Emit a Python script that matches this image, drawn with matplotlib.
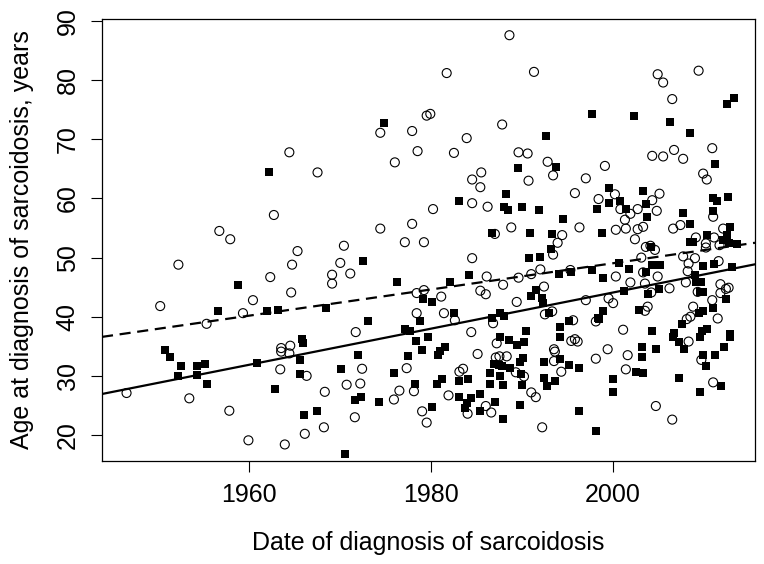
import numpy as np
import matplotlib
matplotlib.use('Agg')
import matplotlib.pyplot as plt

plt.rcParams['font.family'] = ['Liberation Sans', 'DejaVu Sans']

# open circles (dashed fit)
circle_year = [
    1964.4, 1967.5, 1988.6, 1981.7, 1991.3, 1974.4, 1979.5, 1979.9, 1977.9, 1987.8,
    1983.9, 1978.5, 1982.5, 1989.6, 1990.6, 1976.0, 1985.5,
    2009.4, 2004.9, 2005.5, 2006.5, 2004.3, 2005.5, 2006.7, 2007.7, 2010.9,
    1992.8, 1993.4, 1999.1, 2009.9, 2010.3, 1997.0,
    1962.7, 1956.7, 1957.9, 1965.3, 1964.7, 1952.2, 1962.3, 1964.6, 1960.4, 1950.2,
    1959.3, 1955.3,
    1984.5, 1985.4, 1990.7, 1984.5, 1986.2, 1980.2, 1977.9, 1974.4, 1988.8, 1987.0,
    1977.1, 1979.2, 1970.4, 1970.0, 1971.1, 1969.1, 1969.1, 1984.5, 1986.1, 1987.9,
    1989.6, 1991.0, 1992.0, 1985.4, 1986.0, 1978.4, 1979.2, 1981.1, 1989.4, 1978.4,
    1981.4, 1982.6, 1986.8, 1971.7, 1984.4,
    2000.2, 1995.8, 2005.1, 2004.3, 2004.8, 1998.4, 2000.8, 2002.7, 2001.9, 2001.3,
    2001.4, 2000.3, 2002.7, 2003.3, 2002.4, 1996.3, 1994.4, 1993.9, 1993.4, 2011.0,
    2007.4, 2006.6, 2009.1, 2012.1, 2011.1, 2011.7, 2010.2, 2010.2, 2004.1, 2003.6,
    2004.6, 2003.1, 2003.3, 2004.9, 2007.7, 2008.3, 2009.0, 2008.2, 2011.6, 2008.0,
    2011.8, 2012.7, 2012.4, 2009.3, 2011.8, 2010.9, 2008.8, 2011.5, 2008.5, 2008.1,
    2001.1, 2006.2, 2004.2, 2003.5, 2001.9, 2000.3, 1995.3, 1992.4, 1997.0, 1999.5,
    2000.0, 2003.8, 2003.5, 1998.1, 1995.6, 1992.5, 1993.3,
    1964.5, 1963.5, 1963.5, 1964.4, 1963.4, 1966.3, 1946.5, 1953.4, 1957.8, 1966.1,
    1959.9, 1963.9,
    1987.2, 1985.1, 1972.4, 1977.3, 1987.1, 1987.5, 1988.3, 1989.3, 1983.1, 1983.5,
    1990.2, 1978.1, 1976.5, 1975.9, 1970.7, 1972.2, 1968.3, 1981.9, 1984.0, 1986.0,
    1986.6, 1991.0, 1991.5, 1979.0, 1979.5, 1971.6, 1968.2,
    1995.4, 1995.8, 1996.1, 1993.5, 1993.6, 1993.5, 1994.3, 1998.1, 1999.4, 2001.6,
    2001.4, 2008.3, 2009.7, 2011.0, 2004.7, 2006.5, 1992.2,
]
circle_age = [
    67.8, 64.4, 87.6, 81.2, 81.4, 71.1, 74.0, 74.3, 71.4, 72.5,
    70.2, 68.0, 67.7, 67.8, 67.6, 66.1, 64.4,
    81.6, 81.0, 79.6, 76.8, 67.2, 67.1, 68.2, 66.7, 68.5,
    66.2, 63.9, 65.5, 64.2, 63.2, 63.4,
    57.2, 54.5, 53.1, 51.1, 48.8, 48.8, 46.7, 44.1, 42.8, 41.8,
    40.6, 38.8,
    63.2, 61.9, 63.0, 59.2, 58.6, 58.2, 55.7, 54.9, 55.1, 54.0,
    52.6, 52.6, 52.0, 49.1, 47.3, 47.1, 45.6, 49.9, 46.8, 45.4,
    46.6, 47.2, 48.0, 44.4, 43.8, 44.0, 44.5, 43.4, 42.5, 40.6,
    40.6, 39.4, 38.9, 37.4, 37.4,
    60.7, 60.9, 60.8, 59.7, 57.9, 59.9, 58.2, 58.2, 57.4, 56.4,
    54.9, 54.7, 54.8, 55.2, 53.1, 55.1, 53.8, 52.5, 50.5, 56.9,
    55.5, 54.9, 53.4, 54.9, 53.4, 52.1, 52.4, 51.7, 52.0, 51.8,
    51.3, 50.0, 47.5, 46.8, 50.2, 49.0, 49.9, 47.7, 49.4, 45.8,
    45.5, 44.9, 44.7, 44.2, 44.0, 42.8, 41.7, 39.7, 40.0, 39.6,
    37.8, 44.8, 44.1, 45.6, 45.8, 46.8, 47.9, 45.1, 42.8, 43.1,
    42.3, 41.7, 41.0, 39.2, 39.4, 40.4, 40.9,
    35.1, 34.7, 34.1, 33.8, 31.1, 30.0, 27.1, 26.2, 24.1, 20.2,
    19.1, 18.4,
    35.5, 33.7, 31.2, 31.3, 33.1, 33.3, 33.3, 30.6, 30.7, 31.2,
    29.9, 27.4, 27.5, 26.0, 28.5, 28.7, 27.3, 26.7, 23.6, 24.9,
    23.8, 27.2, 26.4, 24.0, 22.1, 23.0, 21.3,
    35.9, 36.2, 35.8, 34.5, 34.1, 32.5, 30.7, 32.9, 34.5, 33.5,
    31.1, 35.8, 32.7, 28.9, 24.9, 22.6, 21.3,
]

# filled squares (solid fit)
square_year = [
    1962.2, 1974.8, 1989.5, 2013.3, 2012.5, 1997.7, 2002.3, 2006.3, 2008.5, 1992.6,
    2011.2, 1993.7,
    1958.7, 1956.6, 1961.9, 1963.1,
    1988.2, 1983.0, 1988.0, 1988.4, 1990.0, 1991.8, 1986.7, 1990.9, 1972.5, 1976.2,
    1990.8, 1992.0, 1984.2, 1982.1, 1979.1, 1980.1, 1991.0, 1991.5, 1968.4, 1978.8,
    1982.5, 1973.1, 1986.7, 1987.6, 1988.0, 1977.1, 1977.7, 1990.4,
    1999.6, 2003.3, 2003.6, 1999.6, 2000.8, 1998.2, 2001.4, 2003.7, 1998.8, 1994.5,
    1993.3, 1993.2, 2011.0, 2011.4, 2012.6, 2011.0, 2007.7, 2008.5, 2010.3, 2012.8,
    2012.5, 2012.1, 2012.7, 2013.6, 2008.4, 2008.8, 2004.2, 2000.7, 2001.7, 2003.6,
    2004.3, 2004.7, 2005.2, 2009.9, 2011.1, 2013.1, 2009.0, 2009.1, 2009.7, 2009.5,
    2009.9, 2012.4, 2011.0, 2009.9, 2009.4, 2007.6, 2010.3, 2009.8, 2006.7, 2012.8,
    2004.3, 2005.1, 2003.8, 2001.2, 1998.9, 1997.7, 1995.4, 1994.1, 1992.2, 1992.3,
    2002.9, 1998.9, 1998.3, 1998.5, 1995.1, 1994.2, 1992.9,
    1965.8, 1965.9, 1950.7, 1951.3, 1952.5, 1952.2, 1954.3, 1955.1, 1954.3, 1955.4,
    1960.8, 1965.6, 1965.6, 1962.8, 1966.0, 1967.4,
    1979.7, 1978.3, 1987.6, 1988.5, 1989.4, 1990.2, 1979.0, 1981.5, 1981.0, 1980.7,
    1972.0, 1977.4, 1970.1, 1975.9, 1990.1, 1989.8, 1986.9, 1987.4, 1987.8, 1988.7,
    1986.5, 1983.0, 1984.0, 1989.9, 1987.6, 1986.5, 1987.9, 1990.0, 1980.6, 1981.2,
    1978.2, 1971.6, 1972.3, 1974.3, 1983.1, 1984.4, 1983.9, 1983.7, 1985.4, 1987.0,
    1985.4, 1987.9, 1989.8, 1980.1, 1970.5,
    1994.2, 1992.4, 1994.2, 1995.2, 1996.2, 1992.4, 1993.6, 1992.7, 2000.0, 2000.0,
    2002.5, 2003.3, 2003.2, 2003.2, 2004.7, 2006.6, 2007.2, 2007.8, 2009.5, 2009.9,
    2010.2, 2011.2, 2012.2, 2012.9, 2007.2, 2009.5, 2011.9, 1996.2, 1998.1,
]
square_age = [
    64.5, 72.8, 65.2, 77.0, 75.9, 74.3, 74.0, 72.9, 71.0, 70.5,
    65.9, 65.3,
    45.4, 41.0, 40.9, 41.1,
    60.8, 59.5, 58.6, 58.0, 58.5, 58.1, 54.1, 54.1, 49.4, 45.9,
    49.9, 50.1, 47.1, 45.9, 43.0, 42.5, 43.5, 44.5, 41.5, 39.3,
    40.7, 39.3, 39.8, 40.7, 40.2, 38.0, 37.5, 37.6,
    61.8, 61.3, 59.0, 59.3, 59.5, 58.2, 58.2, 56.9, 54.2, 56.6,
    54.0, 51.5, 60.0, 59.5, 60.2, 57.9, 57.6, 55.6, 53.9, 55.1,
    53.9, 53.0, 52.5, 52.3, 52.7, 52.7, 51.8, 49.0, 48.1, 47.5,
    48.7, 48.7, 48.7, 48.5, 48.9, 48.4, 47.1, 45.9, 45.8, 44.1,
    44.1, 43.0, 41.5, 40.9, 40.6, 38.8, 37.9, 37.6, 37.2, 37.1,
    37.5, 44.7, 43.8, 44.3, 46.5, 47.9, 47.5, 47.3, 43.1, 42.3,
    41.2, 40.9, 39.8, 39.6, 39.2, 38.3, 40.6,
    36.2, 35.5, 34.3, 33.2, 31.7, 29.9, 31.7, 32.0, 30.2, 28.7,
    32.2, 32.6, 30.3, 27.7, 23.4, 24.0,
    36.5, 35.9, 36.5, 36.1, 35.2, 35.8, 34.4, 34.9, 34.2, 33.5,
    33.6, 33.3, 31.1, 30.5, 33.0, 32.3, 32.0, 31.8, 31.6, 31.3,
    30.4, 29.1, 29.5, 30.3, 29.9, 28.7, 28.5, 28.5, 28.6, 29.4,
    28.7, 26.0, 26.5, 25.5, 26.4, 26.3, 25.4, 24.5, 26.9, 25.6,
    24.1, 22.7, 25.1, 24.8, 16.8,
    36.5, 32.4, 32.9, 31.8, 31.3, 29.6, 29.1, 28.2, 29.5, 27.3,
    30.7, 30.5, 34.8, 33.2, 34.5, 36.6, 35.8, 34.5, 36.6, 33.6,
    31.7, 33.6, 34.8, 36.6, 29.7, 27.2, 28.2, 24.1, 20.6,
]

# fitted lines: age at 1960 and slope per year
dashed_at_1960, dashed_slope = 40.18, 0.2216
solid_at_1960, solid_slope = 31.88, 0.3054

x_ticks = [1960, 1980, 2000]
y_ticks = [20, 30, 40, 50, 60, 70, 80, 90]

fig = plt.figure(figsize=(7.64, 5.64), dpi=100)
ax = fig.add_axes([0.1335, 0.1826, 0.8547, 0.7837])

ax.scatter(circle_year, circle_age, s=42, facecolors='none', edgecolors='black',
           linewidths=0.8, marker='o', zorder=3)
ax.scatter(square_year, square_age, s=36, color='black', marker='s',
           linewidths=0, zorder=3)

ax.axline((1960, dashed_at_1960), slope=dashed_slope, color='black', lw=1.6,
          linestyle=(0, (5, 3)), zorder=2)
ax.axline((1960, solid_at_1960), slope=solid_slope, color='black', lw=1.6, zorder=2)

ax.set_xlim(1943.8, 2015.6)
ax.set_ylim(15.6, 90.34)
ax.set_xticks(x_ticks)
ax.set_yticks(y_ticks)
ax.tick_params(direction='out', length=8, width=0.8, labelsize=18, pad=8)
ax.tick_params(axis='y', labelrotation=90)
for lab in ax.get_yticklabels():
    lab.set_va('center')
for sp in ax.spines.values():
    sp.set_linewidth(0.9)

ax.set_xlabel('Date of diagnosis of sarcoidosis', fontsize=18)
ax.set_ylabel('Age at diagnosis of sarcoidosis, years', fontsize=18)
ax.xaxis.label.set_va('center')
ax.yaxis.label.set_va('center')
ax.xaxis.set_label_coords(0.5, -0.1855)
ax.yaxis.set_label_coords(-0.1225, 0.5)

plt.savefig('out.png', dpi=100)
